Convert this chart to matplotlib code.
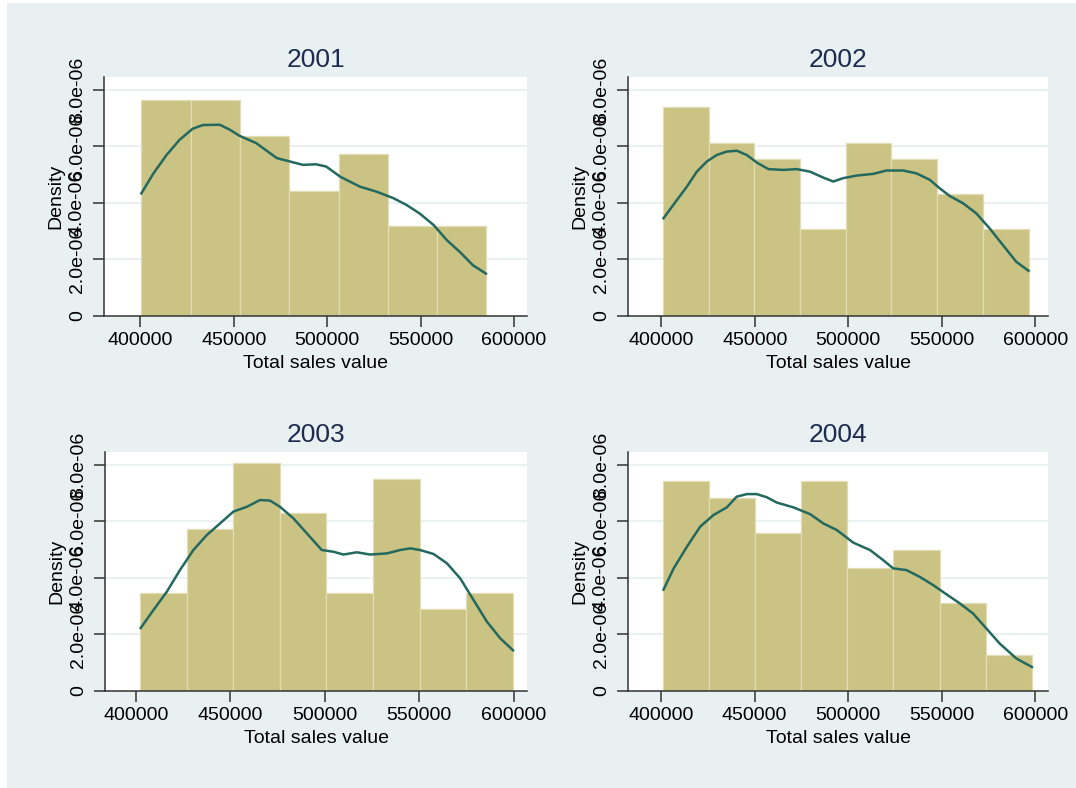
import matplotlib
matplotlib.use("Agg")
import matplotlib.pyplot as plt
from matplotlib.patches import Rectangle

plt.rcParams['font.family'] = ['Liberation Sans', 'DejaVu Sans']

years = ["2001", "2002", "2003", "2004"]

# histogram bins: first edge, bin width, densities (x 1e-6)
bin_start = [400500, 400900, 402100, 400900]
bin_width = [26400, 24440, 24690, 24670]
dens_2001 = [7.63, 7.63, 6.38, 4.44, 5.74, 3.20, 3.20]
dens_2002 = [7.41, 6.14, 5.55, 3.09, 6.14, 5.55, 4.33, 3.09]
dens_2003 = [3.48, 5.74, 8.06, 6.31, 3.48, 7.49, 2.90, 3.48]
dens_2004 = [7.45, 6.84, 5.58, 7.45, 4.34, 4.99, 3.13, 1.26]

# kernel density curves (x, density x 1e-6)
kx_2001 = [400500, 407000, 414000, 421000, 428000, 433500, 442500, 448000, 453000,
           462000, 473000, 480000, 487000, 494000, 499500, 507000, 517500, 526500,
           535500, 542500, 549500, 557000, 564000, 571000, 578000, 585000]
ky_2001 = [4.34, 5.05, 5.70, 6.24, 6.63, 6.76, 6.77, 6.59, 6.38, 6.12, 5.59, 5.47,
           5.35, 5.37, 5.29, 4.93, 4.58, 4.40, 4.17, 3.93, 3.63, 3.22, 2.69, 2.27,
           1.80, 1.50]
kx_2002 = [401200, 408400, 413700, 419000, 424400, 429700, 435000, 440400, 445700,
           451100, 457300, 465300, 472400, 479500, 486600, 492000, 497300, 504400,
           513300, 520400, 529300, 536400, 543600, 548900, 554200, 561400, 568500,
           575600, 582700, 589800, 596400]
ky_2002 = [3.46, 4.11, 4.58, 5.11, 5.47, 5.70, 5.82, 5.85, 5.70, 5.43, 5.20, 5.17,
           5.20, 5.11, 4.90, 4.76, 4.88, 4.97, 5.03, 5.15, 5.15, 5.05, 4.82, 4.52,
           4.25, 3.99, 3.63, 3.10, 2.51, 1.92, 1.60]
kx_2003 = [402500, 409200, 416300, 423300, 430400, 437500, 444500, 451600, 458700,
           465700, 471000, 476300, 483400, 490500, 498400, 504600, 509900, 517000,
           524000, 532900, 539900, 545200, 550500, 557600, 564700, 571800, 578800,
           585900, 593000, 599700]
ky_2003 = [2.23, 2.86, 3.51, 4.28, 4.99, 5.52, 5.93, 6.35, 6.52, 6.76, 6.74, 6.52,
           6.11, 5.58, 4.99, 4.93, 4.83, 4.91, 4.83, 4.87, 4.99, 5.05, 4.99, 4.85,
           4.52, 3.98, 3.22, 2.45, 1.86, 1.44]
kx_2004 = [401400, 406800, 413900, 421000, 428100, 435200, 440500, 445900, 451200,
           456500, 461900, 470800, 479700, 486800, 493900, 502800, 511700, 518800,
           524100, 531200, 538300, 545400, 552600, 559700, 566800, 573900, 581000,
           589900, 598200]
ky_2004 = [3.59, 4.34, 5.11, 5.82, 6.23, 6.50, 6.88, 6.97, 6.97, 6.86, 6.67, 6.50,
           6.26, 5.93, 5.70, 5.25, 4.99, 4.63, 4.34, 4.28, 4.04, 3.75, 3.42, 3.10,
           2.74, 2.21, 1.68, 1.15, 0.85]

x_ticks = [400000, 450000, 500000, 550000, 600000]
y_ticks = [0, 2, 4, 6, 8]
y_tick_labels = ["0", "2.0e-06", "4.0e-06", "6.0e-06", "8.0e-06"]

densities = [dens_2001, dens_2002, dens_2003, dens_2004]
kde_x = [kx_2001, kx_2002, kx_2003, kx_2004]
kde_y = [ky_2001, ky_2002, ky_2003, ky_2004]
xlims = [(380500, 607000), (382200, 606800), (383600, 607100), (382400, 606800)]

W, H = 1076, 788
bg = '#E8F0F2'
bar_color = '#CAC383'
line_color = '#23695F'
title_color = '#1C2B4F'

fig = plt.figure(figsize=(W / 100, H / 100), dpi=100, facecolor='white')
fig.patches.append(Rectangle((7 / W, 0), 1 - 7 / W, 1 - 3 / H, transform=fig.transFigure,
                             facecolor=bg, edgecolor='none', zorder=-10))

# axes boxes in pixels: left, top, right, bottom
boxes = [(104, 77, 527, 316), (628, 77, 1048, 316),
         (105, 452, 527, 691), (628, 452, 1048, 691)]

for i, year in enumerate(years):
    l, t, r, b = boxes[i]
    ax = fig.add_axes([l / W, 1 - b / H, (r - l) / W, (b - t) / H])
    ax.set_facecolor('white')

    dens = densities[i]
    lefts = [bin_start[i] + k * bin_width[i] for k in range(len(dens))]
    heights = [d * 1e-6 for d in dens]
    ax.bar(lefts, heights, width=bin_width[i], align='edge', color=bar_color,
           edgecolor='#E2DDB4', linewidth=0.9, zorder=2)
    ax.plot(kde_x[i], [v * 1e-6 for v in kde_y[i]], color=line_color, lw=1.8, zorder=3)

    for yt in y_ticks[1:]:
        ax.axhline(yt * 1e-6, color='#EAF1F3', lw=1.5, zorder=1)

    ax.set_xlim(*xlims[i])
    ax.set_ylim(0, 8.46e-6)
    ax.set_xticks(x_ticks)
    ax.set_xticklabels([str(v) for v in x_ticks], fontsize=14)
    ax.set_yticks([v * 1e-6 for v in y_ticks])
    ax.set_yticklabels(y_tick_labels, fontsize=14, rotation=90, va='center')
    ax.tick_params(axis='x', length=8, width=1.1, pad=3.5, color='#333333')
    ax.tick_params(axis='y', length=8, width=1.1, pad=5, color='#333333')

    for side in ['top', 'right']:
        ax.spines[side].set_visible(False)
    for side in ['left', 'bottom']:
        ax.spines[side].set_color('#333333')
        ax.spines[side].set_linewidth(1.1)

    ax.set_xlabel("Total sales value", fontsize=14, labelpad=4)
    ax.set_ylabel("Density", fontsize=14, labelpad=3)
    ax.set_title(year, fontsize=19, color=title_color, pad=7)

fig.savefig("out.png", dpi=100, facecolor=fig.get_facecolor())
